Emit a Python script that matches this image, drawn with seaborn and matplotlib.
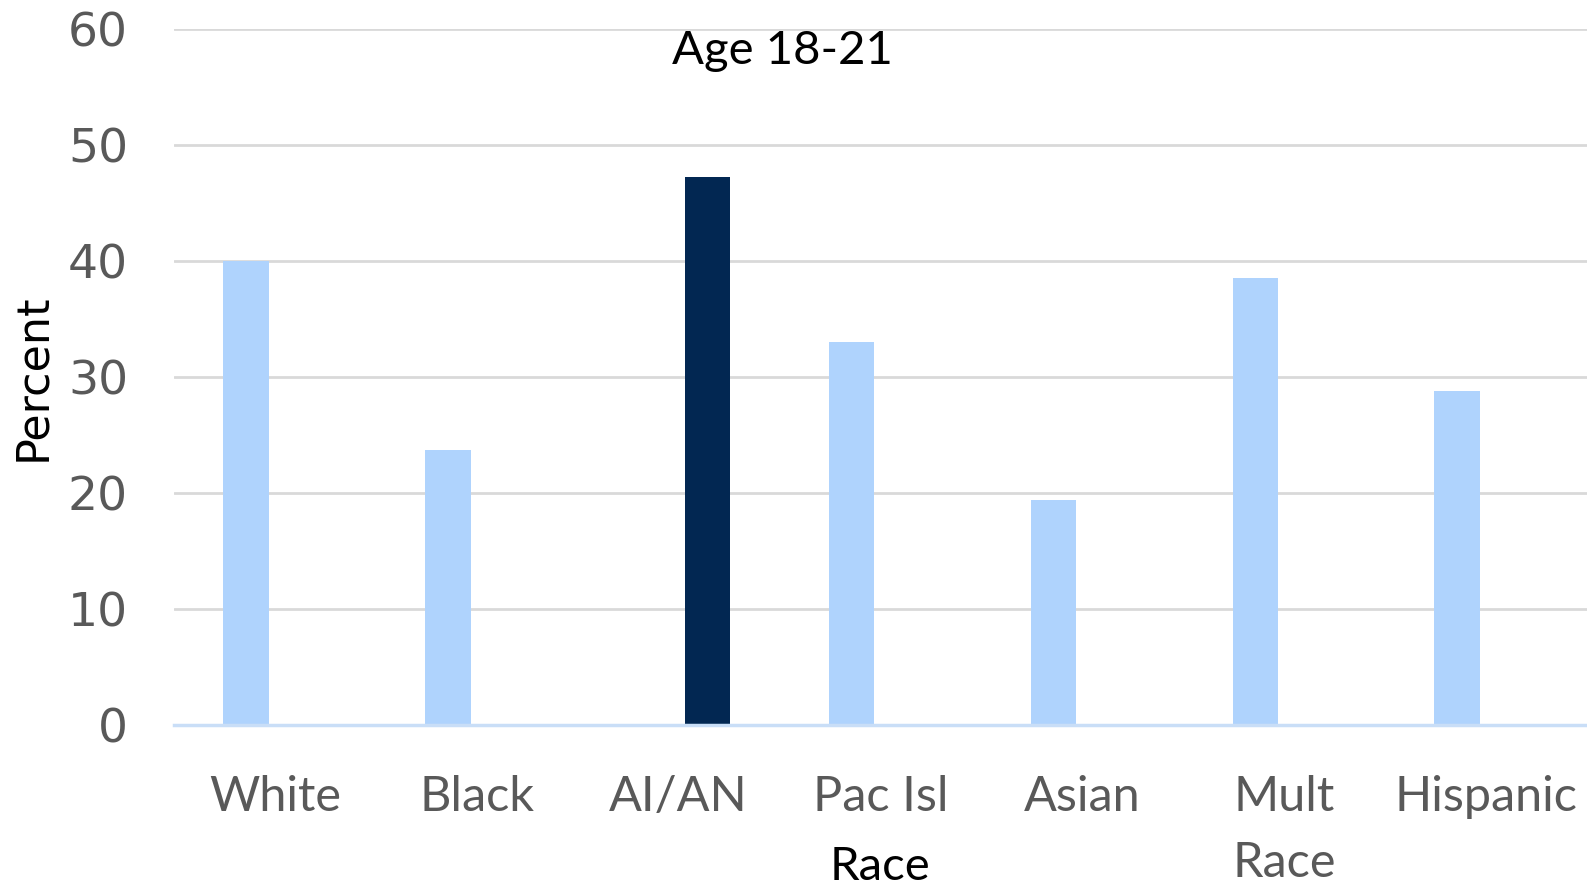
import matplotlib
matplotlib.use("Agg")
import matplotlib.pyplot as plt
import seaborn as sns
import pandas as pd

# Share of each race group, age 18-21
races = ["White", "Black", "AI/AN", "Pac Isl", "Asian", "Mult\nRace", "Hispanic"]
other_groups = [40.0, 23.7, 0.0, 33.0, 19.4, 38.5, 28.8]
aian_group = [0.0, 0.0, 47.2, 0.0, 0.0, 0.0, 0.0]
y_ticks = [0, 10, 20, 30, 40, 50, 60]

light_blue = "#afd3fd"
navy = "#022752"

df = pd.concat([
    pd.DataFrame({"race": races, "series": "Other", "pct": other_groups}),
    pd.DataFrame({"race": races, "series": "AI/AN", "pct": aian_group}),
])

sns.set_theme(style="white")
plt.rcParams["font.family"] = ["DejaVu Sans"]

fig = plt.figure(figsize=(15.87, 8.88), dpi=100)
ax = fig.add_axes([0.1096, 0.1836, 0.8904, 0.7843])

sns.barplot(data=df, x="race", y="pct", hue="series", order=races,
            hue_order=["Other", "AI/AN"], palette=[light_blue, navy],
            saturation=1, width=0.572, gap=0.21, dodge=True, linewidth=0,
            errorbar=None, legend=False, ax=ax, zorder=3)

ax.set_xlim(-0.5, len(races) - 0.5)
ax.set_ylim(0, 60)
ax.set_yticks(y_ticks)
ax.yaxis.grid(True, color="#d9d9d9", linewidth=2, zorder=0)
ax.xaxis.grid(False)
for side in ["top", "right", "left"]:
    ax.spines[side].set_visible(False)
ax.spines["bottom"].set_color("#c9def7")
ax.spines["bottom"].set_linewidth(2.5)
ax.spines["bottom"].set_zorder(4)

ax.tick_params(axis="y", length=0, pad=33, labelsize=34, labelcolor="#595959")
ax.tick_params(axis="x", length=0, pad=36, labelcolor="#595959")
for lbl in ax.get_xticklabels():
    lbl.set_family(["Lato", "DejaVu Sans"])
    lbl.set_fontsize(35)
    lbl.set_verticalalignment("top")
    lbl.set_linespacing(1.6)

ax.set_xlabel("Race", fontsize=34, family=["Lato", "DejaVu Sans"], color="black",
              va="center")
ax.xaxis.set_label_coords(0.5, -0.204)
ax.set_ylabel("Percent", fontsize=32, color="black", va="center")
ax.yaxis.set_label_coords(-0.1002, 0.5)

fig.text(0.493, 0.943, "Age 18-21", fontsize=34, family=["Lato", "DejaVu Sans"],
         color="black", ha="center", va="center")

fig.savefig("out.png", dpi=100, facecolor="white")
